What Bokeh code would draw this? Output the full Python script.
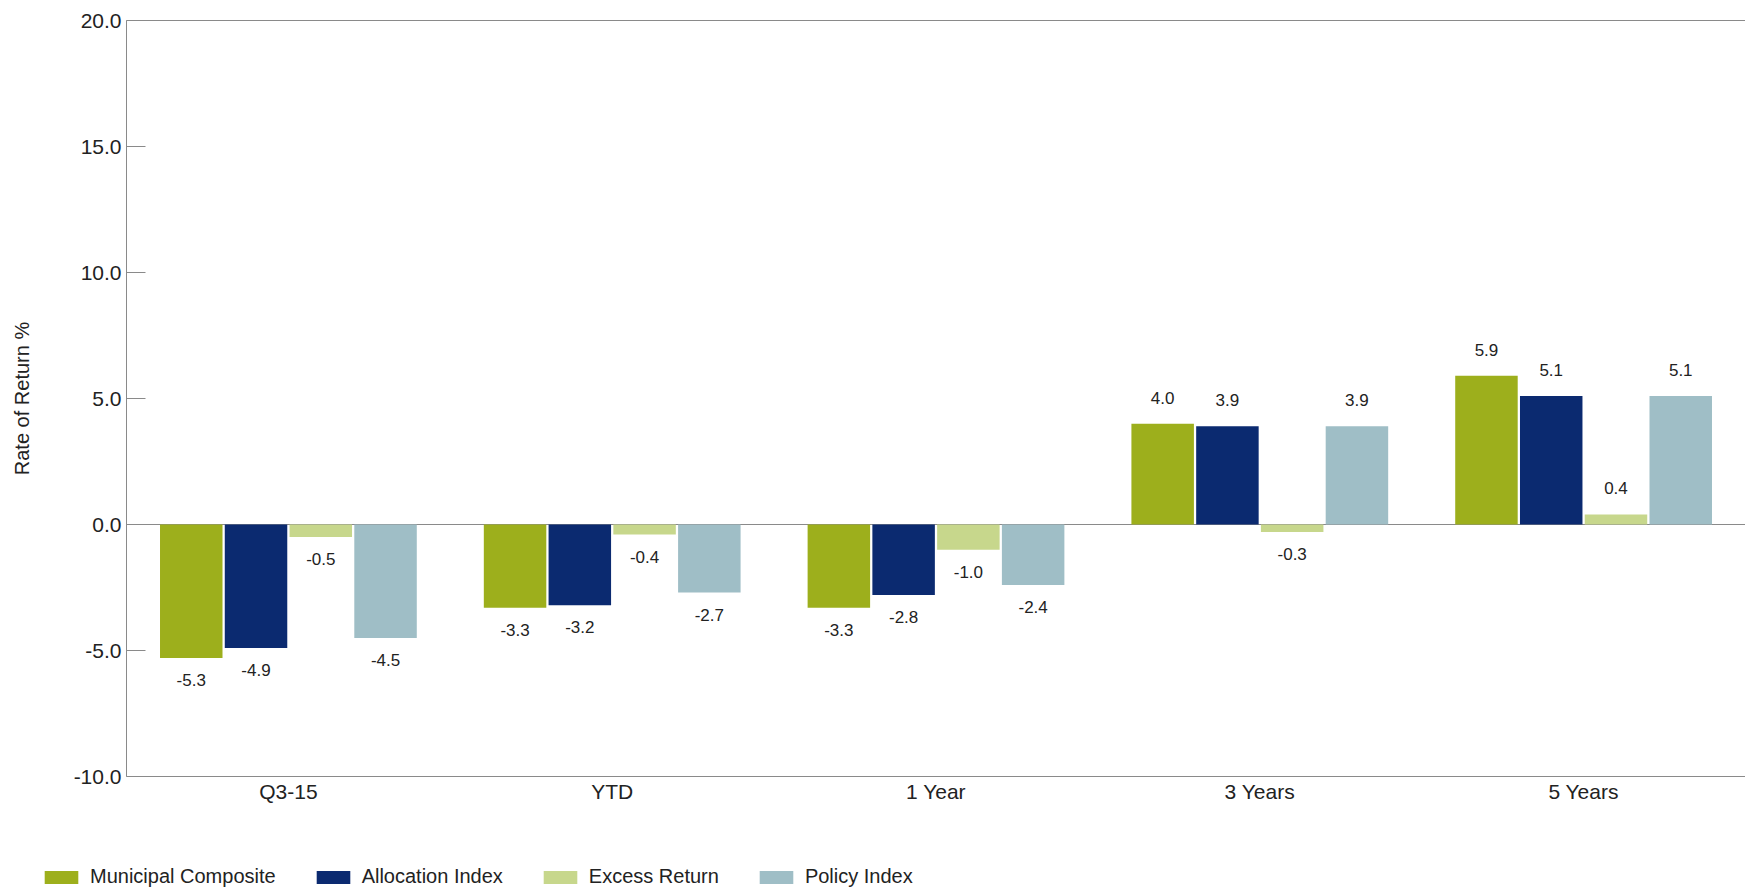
from bokeh.plotting import figure
from bokeh.layouts import column
from bokeh.models import (ColumnDataSource, FactorRange, Range1d, LinearAxis, Legend, LegendItem,
                          SingleIntervalTicker, FixedTicker, NumeralTickFormatter, Span)
from bokeh.transform import dodge
from bokeh.embed import file_html
from bokeh.resources import INLINE

categories = ["Q3-15", "YTD", "1 Year", "3 Years", "5 Years"]
municipal_composite = [-5.3, -3.3, -3.3, 4.0, 5.9]
allocation_index = [-4.9, -3.2, -2.8, 3.9, 5.1]
excess_return = [-0.5, -0.4, -1.0, -0.3, 0.4]
policy_index = [-4.5, -2.7, -2.4, 3.9, 5.1]
series_names = ["Municipal Composite", "Allocation Index", "Excess Return", "Policy Index"]
series_values = [municipal_composite, allocation_index, excess_return, policy_index]
colors = ["#9DAF1C", "#0B2A70", "#C7D78C", "#9FBEC6"]
offsets = [-0.3, -0.1, 0.1, 0.3]

FONT = "Liberation Sans"
GRAY = "#8A8A8A"
TXT = "#222222"

MAIN_H = 820
p = figure(x_range=FactorRange(*categories, range_padding=0), y_range=Range1d(-10, 20),
           width=1745, height=MAIN_H, output_backend="svg", toolbar_location=None,
           min_border_left=126, min_border_top=20, min_border_bottom=MAIN_H - 776, min_border_right=0)
p.frame_align = False
p.xgrid.visible = False
p.ygrid.visible = False
p.outline_line_color = None
p.background_fill_color = "white"

p.add_layout(Span(location=0, dimension="width", line_color=GRAY, line_width=1, level="underlay"))

sources = []
for name, vals, col, off in zip(series_names, series_values, colors, offsets):
    src = ColumnDataSource(dict(cat=categories, val=vals))
    sources.append(src)
    p.vbar(x=dodge("cat", off, range=p.x_range), top="val", bottom=0, width=0.193,
           fill_color=col, line_color=None, source=src)
    pos = ColumnDataSource(dict(cat=[c for c, v in zip(categories, vals) if v >= 0],
                                val=[v for v in vals if v >= 0],
                                lab=[f"{v:.1f}" for v in vals if v >= 0]))
    neg = ColumnDataSource(dict(cat=[c for c, v in zip(categories, vals) if v < 0],
                                val=[v for v in vals if v < 0],
                                lab=[f"{v:.1f}" for v in vals if v < 0]))
    p.text(x=dodge("cat", off, range=p.x_range), y="val", text="lab", source=pos,
           text_align="center", text_baseline="bottom", y_offset=-20,
           text_font={"value": FONT}, text_font_size="17px", text_color=TXT)
    p.text(x=dodge("cat", off, range=p.x_range), y="val", text="lab", source=neg,
           text_align="center", text_baseline="top", y_offset=16,
           text_font={"value": FONT}, text_font_size="17px", text_color=TXT)

# y axis
ya = p.yaxis[0]
ya.ticker = SingleIntervalTicker(interval=5)
ya.formatter = NumeralTickFormatter(format="0.0")
ya.axis_label = "Rate of Return %"
ya.axis_label_text_font = FONT
ya.axis_label_text_font_size = "20px"
ya.axis_label_text_font_style = "normal"
ya.axis_label_text_color = TXT
ya.axis_label_standoff = 38
ya.major_label_text_font = FONT
ya.major_label_text_font_size = "21px"
ya.major_label_text_color = TXT
ya.major_label_standoff = 5
ya.major_tick_in = 19
ya.major_tick_out = 0
ya.minor_tick_in = 0
ya.minor_tick_out = 0
ya.axis_line_color = GRAY
ya.major_tick_line_color = GRAY

# x axis
xa = p.xaxis[0]
xa.major_label_text_font = FONT
xa.major_label_text_font_size = "21px"
xa.major_label_text_color = TXT
xa.major_label_standoff = 3
xa.major_tick_in = 0
xa.major_tick_out = 0
xa.minor_tick_line_color = None
xa.axis_line_color = GRAY

# top border line
top = LinearAxis(ticker=FixedTicker(ticks=[]), major_tick_in=0, major_tick_out=0,
                 minor_tick_in=0, minor_tick_out=0, axis_line_color=GRAY)
p.add_layout(top, "above")

# legend strip below the chart (its bars lie outside its visible range; only the legend shows)
LEG_H = 894 - MAIN_H
leg = figure(width=1745, height=LEG_H, output_backend="svg", toolbar_location=None,
             x_axis_location=None, y_axis_location=None, min_border=0,
             x_range=FactorRange(*categories), y_range=Range1d(100, 101))
leg.frame_align = False
leg.xgrid.visible = False
leg.ygrid.visible = False
leg.outline_line_color = None
items = []
for name, col, src in zip(series_names, colors, sources):
    r = leg.vbar(x="cat", top="val", bottom=0, width=0.2, fill_color=col, line_color=None,
                 source=src)
    items.append(LegendItem(label=name, renderers=[r]))
legend = Legend(items=items, orientation="horizontal", location=(40, 6),
                glyph_width=42, glyph_height=16, label_standoff=8, spacing=36,
                padding=0, margin=0, border_line_color=None, background_fill_alpha=0,
                label_text_font=FONT, label_text_font_size="20px", label_text_color=TXT)
leg.add_layout(legend, "center")

open("out.html", "w").write(file_html(column(p, leg, spacing=0), INLINE))
